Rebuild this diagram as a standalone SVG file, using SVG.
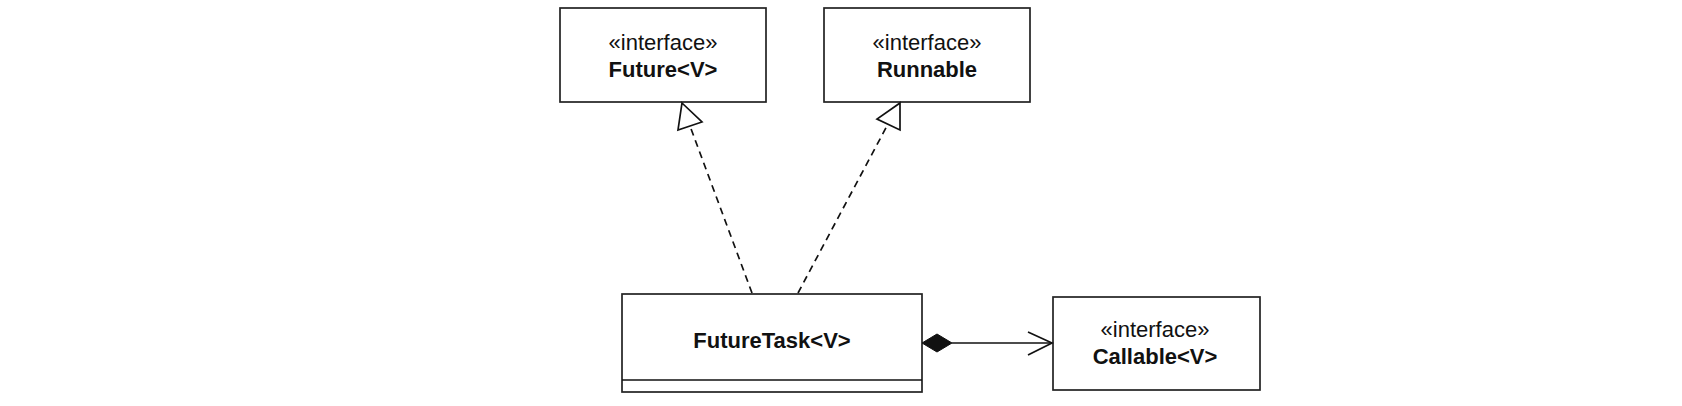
<svg xmlns="http://www.w3.org/2000/svg" width="1682" height="406" viewBox="0 0 1682 406">
<style>
.box{fill:#fff;stroke:#222;stroke-width:1.7}
.st{font-family:"Liberation Sans",Arial,sans-serif;font-size:22px;fill:#111;text-anchor:middle}
.nm{font-family:"Liberation Sans",Arial,sans-serif;font-size:22px;font-weight:bold;fill:#111;text-anchor:middle}
.dash{fill:none;stroke:#111;stroke-width:1.7;stroke-dasharray:7 5}
.ln{fill:none;stroke:#111;stroke-width:1.7}
.tri{fill:#fff;stroke:#111;stroke-width:1.7}
</style>
<rect width="1682" height="406" fill="#fff"/>
<g id="future">
<rect class="box" x="560" y="8" width="206" height="94"/>
<text class="st" x="663" y="50">«interface»</text>
<text class="nm" x="663" y="77">Future&lt;V&gt;</text>
</g>
<g id="runnable">
<rect class="box" x="824" y="8" width="206" height="94"/>
<text class="st" x="927" y="50">«interface»</text>
<text class="nm" x="927" y="77">Runnable</text>
</g>
<g id="futuretask">
<rect class="box" x="622" y="294" width="300" height="98"/>
<line class="ln" x1="622" y1="380" x2="922" y2="380"/>
<text class="nm" x="772" y="348">FutureTask&lt;V&gt;</text>
</g>
<g id="callable">
<rect class="box" x="1053" y="297" width="207" height="93"/>
<text class="st" x="1155" y="337">«interface»</text>
<text class="nm" x="1155" y="364">Callable&lt;V&gt;</text>
</g>
<g id="connectors">
<line class="dash" x1="752" y1="293" x2="690" y2="126"/>
<polygon class="tri" points="682,103 702,122 678,130"/>
<line class="dash" x1="798" y1="293" x2="888" y2="124"/>
<polygon class="tri" points="900,103 900,130 877,119"/>
<polygon points="922,343 937,334 952,343 937,352" fill="#111" stroke="#111" stroke-width="1"/>
<line class="ln" x1="952" y1="343" x2="1052" y2="343"/>
<polyline class="ln" points="1028,332 1052,343 1028,355"/>
</g>
</svg>
